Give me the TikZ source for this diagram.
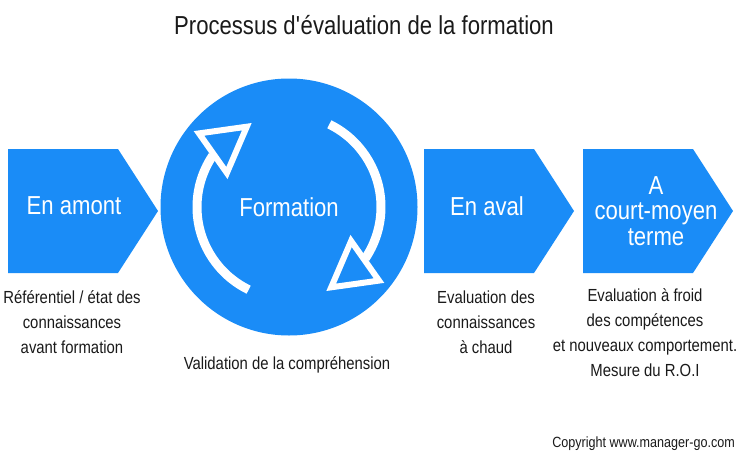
\documentclass[tikz,border=0pt]{standalone}
\usepackage{fontspec}
\setmainfont[FakeStretch=0.85]{Liberation Sans}
\usepackage{tikz}
\usetikzlibrary{calc}
\definecolor{FormBlue}{HTML}{1A8CF7}
\definecolor{FormInk}{HTML}{1A1A1A}
\tikzset{
  stagearrow/.style={fill=FormBlue},
  stagelabel/.style={text=white,align=center,font=\fontsize{26}{25.5}\selectfont,inner sep=0pt},
  stagenote/.style={text=FormInk,align=center,font=\fontsize{17.5}{25}\selectfont,inner sep=0pt},
  cyclearc/.style={draw=white,line width=9pt},
  cyclehead/.style={draw=white,fill=FormBlue,line width=6pt,line join=miter}
}
\begin{document}
\begin{tikzpicture}[x=1pt,y=-1pt]
\fill[white] (0,0) rectangle (747,458);
\node[font=\fontsize{26}{26}\selectfont,text=FormInk,inner sep=0pt] (title) at (364,25) {Processus d\textquotesingle évaluation de la formation};
% stage arrows
\foreach \x in {8,424,583}
  \fill[stagearrow] (\x,149) -- ++(110,0) -- ++(40,62) -- ++(-40,62) -- ++(-110,0) -- cycle;
\node[circle,fill=FormBlue,minimum size=257pt,inner sep=0pt,stagelabel] (form) at (289,207) {Formation};
% cycle inside the circle
\draw[cyclearc] ($(form.center)+(116:92)$) arc[start angle=116,end angle=214,radius=92];
\draw[cyclearc] ($(form.center)+(-64:92)$) arc[start angle=-64,end angle=34,radius=92];
\draw[cyclehead] ($(form.center)+(-90,-73.6)$) -- ($(form.center)+(-42.2,-80.3)$) -- ($(form.center)+(-62.1,-34)$) -- cycle;
\draw[cyclehead] ($(form.center)+(90,73.6)$) -- ($(form.center)+(42.2,80.3)$) -- ($(form.center)+(62.1,34)$) -- cycle;
\node[stagelabel] (amont) at (74,206) {En amont};
\node[stagelabel] (aval) at (487,206) {En aval};
\node[stagelabel] (terme) at (656,211) {A\\court-moyen\\terme};
% notes under the stages
\node[stagenote] (amontnote) at (72,322) {Référentiel / état des\\connaissances\\avant formation};
\node[stagenote] (formnote) at (287,365) {Validation de la compréhension};
\node[stagenote] (avalnote) at (486,322) {Evaluation des\\connaissances\\à chaud};
\node[stagenote] (termenote) at (645,333) {Evaluation à froid\\des compétences\\et nouveaux comportement.\\Mesure du R.O.I};
\node[font=\fontsize{14.8}{14.8}\selectfont,text=FormInk,anchor=east,inner sep=0pt] (copy) at (735,444) {Copyright www.manager-go.com};
\end{tikzpicture}
\end{document}
